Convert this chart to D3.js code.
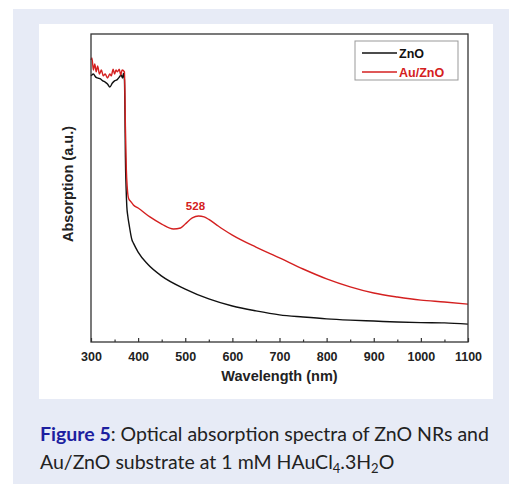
<!DOCTYPE html>
<html lang="en">
	<head>
		<meta charset="utf-8">
		<title>Optical absorption spectra</title>
		<script type="text/javascript" src="https://cdnjs.cloudflare.com/ajax/libs/d3/7.8.5/d3.min.js"></script>
		<style type="text/css">
			body { margin: 0; background: #fff; }
		</style>
	</head>
	<body>
		<script type="text/javascript">

			//Width and height
			var w = 509;
			var h = 484;

			//Data: wavelength (nm) and absorption (a.u.)
			var znoWave = [300, 305, 310, 315, 320, 325, 330, 335, 340, 345, 350, 355, 360, 364, 367, 369, 371,
				372, 373, 374.5, 376, 378, 381, 387, 390, 400, 420, 450, 500, 550, 600, 650, 700, 750, 800,
				850, 900, 950, 1000, 1050, 1100];
			var znoAbs = [0.864, 0.870, 0.860, 0.857, 0.854, 0.848, 0.844, 0.838, 0.828, 0.840, 0.848, 0.851, 0.860,
				0.867, 0.857, 0.873, 0.850, 0.75, 0.60, 0.50, 0.44, 0.41, 0.380, 0.331, 0.321, 0.292, 0.253, 0.214,
				0.172, 0.140, 0.117, 0.101, 0.088, 0.081, 0.075, 0.071, 0.068, 0.065, 0.063, 0.062, 0.058];

			var auWave = [300, 302, 305, 308, 311, 314, 318, 322, 326, 330, 335, 340, 343, 347, 350, 353, 356, 360,
				363, 366, 371, 373, 375, 377, 380, 385, 390, 400, 425, 450, 475, 490, 500, 515, 528, 540, 550, 565,
				580, 600, 650, 700, 750, 800, 850, 900, 950, 1000, 1050, 1100];
			var auAbs = [0.916, 0.922, 0.883, 0.903, 0.877, 0.896, 0.870, 0.883, 0.864, 0.870, 0.857, 0.870, 0.864,
				0.886, 0.870, 0.883, 0.877, 0.886, 0.867, 0.883, 0.877, 0.70, 0.56, 0.50, 0.465, 0.455, 0.445, 0.435,
				0.406, 0.383, 0.367, 0.370, 0.383, 0.403, 0.409, 0.406, 0.398, 0.382, 0.366, 0.347, 0.308, 0.273,
				0.237, 0.205, 0.179, 0.159, 0.146, 0.136, 0.130, 0.123];

			var xTicks = [300, 400, 500, 600, 700, 800, 900, 1000, 1100];
			var xMinor = [350, 450, 550, 650, 750, 850, 950, 1050];
			var seriesNames = ["ZnO", "Au/ZnO"];
			var seriesColors = ["#111111", "#d42020"];
			var peakWave = 528;
			var peakAbs = 0.409;

			var zno = znoWave.map((d, i) => ({x: d, y: znoAbs[i]}));
			var au = auWave.map((d, i) => ({x: d, y: auAbs[i]}));

			var svg = d3.select("body")
						.append("svg")
						.attr("width", w)
						.attr("height", h);

			//Background panel and white card
			svg.append("rect")
				.attr("x", 13).attr("y", 9)
				.attr("width", 496).attr("height", 475)
				.attr("fill", "#e7ebf6");
			svg.append("rect")
				.attr("x", 39).attr("y", 24)
				.attr("width", 454).attr("height", 375)
				.attr("fill", "#ffffff");

			//Plot area
			var pL = 91, pR = 468, pT = 34, pB = 342;

			var xScale = d3.scaleLinear()
						.domain([300, 1100])
						.range([pL, pR]);

			var yScale = d3.scaleLinear()
						.domain([0, 1])
						.range([pB, pT]);

			var line = d3.line()
						.x(d => xScale(d.x))
						.y(d => yScale(d.y))
						.curve(d3.curveMonotoneX);

			svg.append("path")
				.datum(zno)
				.attr("d", line)
				.attr("fill", "none")
				.attr("stroke", seriesColors[0])
				.attr("stroke-width", 1.4);

			svg.append("path")
				.datum(au)
				.attr("d", line)
				.attr("fill", "none")
				.attr("stroke", seriesColors[1])
				.attr("stroke-width", 1.4);

			//Frame
			svg.append("rect")
				.attr("x", pL).attr("y", pT)
				.attr("width", pR - pL).attr("height", pB - pT)
				.attr("fill", "none")
				.attr("stroke", "#333")
				.attr("stroke-width", 1.3);

			//Minor ticks
			svg.append("g")
				.attr("transform", `translate(0,${pB})`)
				.call(d3.axisBottom(xScale).tickValues(xMinor).tickSize(-2.5).tickFormat(""))
				.call(g => g.select(".domain").remove())
				.selectAll("line").attr("stroke", "#333").attr("stroke-width", 1.2);

			//X axis
			var xAxis = svg.append("g")
				.attr("transform", `translate(0,${pB})`)
				.call(d3.axisBottom(xScale).tickValues(xTicks).tickSize(-4).tickPadding(10).tickFormat(d3.format("d")));
			xAxis.select(".domain").remove();
			xAxis.selectAll("line").attr("stroke", "#333").attr("stroke-width", 1.2);
			xAxis.selectAll("text")
				.attr("fill", "#222")
				.style("font-family", "'Liberation Sans', Arial, sans-serif")
				.style("font-size", "12.5px")
				.style("font-weight", "bold");

			//Axis labels
			svg.append("text")
				.attr("x", (pL + pR) / 2)
				.attr("y", 381)
				.attr("text-anchor", "middle")
				.attr("fill", "#222")
				.style("font-family", "'Liberation Sans', Arial, sans-serif")
				.style("font-size", "14.5px")
				.style("font-weight", "bold")
				.text("Wavelength (nm)");

			svg.append("text")
				.attr("transform", `translate(73,${(pT + pB) / 2 - 4}) rotate(-90)`)
				.attr("text-anchor", "middle")
				.attr("fill", "#222")
				.style("font-family", "'Liberation Sans', Arial, sans-serif")
				.style("font-size", "14.5px")
				.style("font-weight", "bold")
				.text("Absorption (a.u.)");

			//Peak label
			svg.append("text")
				.attr("x", xScale(peakWave) - 3)
				.attr("y", yScale(peakAbs) - 6)
				.attr("text-anchor", "middle")
				.attr("fill", seriesColors[1])
				.style("font-family", "'Liberation Sans', Arial, sans-serif")
				.style("font-size", "11.5px")
				.style("font-weight", "bold")
				.text(peakWave);

			//Legend
			var legend = svg.append("g");
			legend.append("rect")
				.attr("x", 355).attr("y", 41)
				.attr("width", 103).attr("height", 39)
				.attr("fill", "#fff")
				.attr("stroke", "#999")
				.attr("stroke-width", 1);
			seriesNames.forEach((name, i) => {
				var ly = 53 + i * 19;
				legend.append("line")
					.attr("x1", 362).attr("x2", 397)
					.attr("y1", ly).attr("y2", ly)
					.attr("stroke", seriesColors[i])
					.attr("stroke-width", 1.3);
				legend.append("text")
					.attr("x", 399)
					.attr("y", ly + 4.5)
					.attr("fill", i === 0 ? "#111" : seriesColors[1])
					.style("font-family", "'Liberation Sans', Arial, sans-serif")
					.style("font-size", "12.5px")
					.style("font-weight", "bold")
					.text(name);
			});

			//Caption
			var cap1 = svg.append("text")
				.attr("x", 40)
				.attr("y", 441)
				.attr("fill", "#222")
				.style("font-family", "Lato, 'Open Sans', sans-serif")
				.style("font-size", "19.5px");
			cap1.append("tspan")
				.attr("fill", "#1d1fa0")
				.style("font-weight", "bold")
				.text("Figure 5");
			cap1.append("tspan").text(": Optical absorption spectra of ZnO NRs and");

			var cap2 = svg.append("text")
				.attr("x", 40)
				.attr("y", 469)
				.attr("fill", "#222")
				.style("font-family", "Lato, 'Open Sans', sans-serif")
				.style("font-size", "19.5px");
			cap2.append("tspan").text("Au/ZnO substrate at 1 mM HAuCl");
			cap2.append("tspan").attr("dy", 4).style("font-size", "13px").text("4");
			cap2.append("tspan").attr("dy", -4).text(".3H");
			cap2.append("tspan").attr("dy", 4).style("font-size", "13px").text("2");
			cap2.append("tspan").attr("dy", -4).text("O");

		</script>
	</body>
</html>
